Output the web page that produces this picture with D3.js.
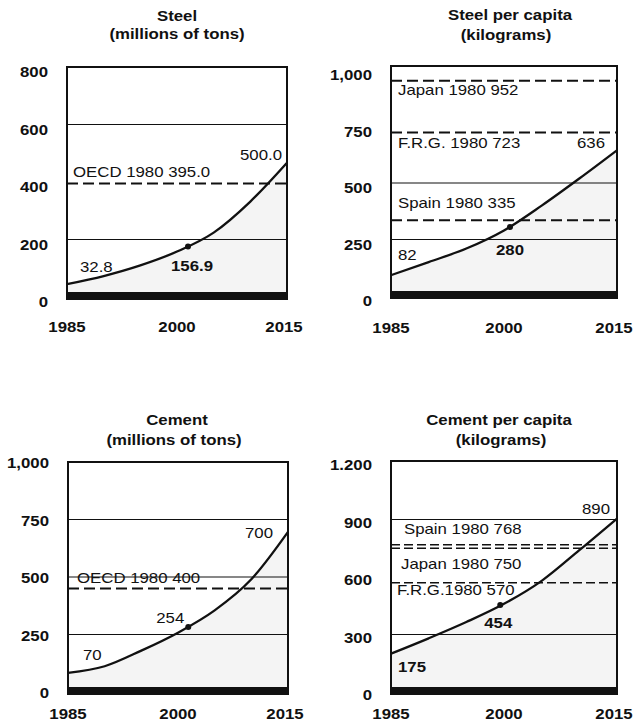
<!DOCTYPE html>
<html><head><meta charset="utf-8">
<script src="https://cdn.jsdelivr.net/npm/d3@7"></script>
<style>
body{margin:0;background:#fff}
svg{display:block}
text{font-family:"Liberation Sans",Arial,Helvetica,sans-serif;fill:#111}
</style>
</head><body>
<svg id="chart" width="635" height="724"></svg>
<script>
// ---------------- data ----------------
const years = [1985, 1990, 1995, 2000, 2005, 2010, 2015];
const xTickYears = [1985, 2000, 2015];

const steelTotal      = [45, 73, 110, 158, 224, 332, 467];
const steelPerCapita  = [92, 150, 210, 290, 400, 520, 645];
const cementTotal     = [83, 112, 180, 258, 355, 490, 696];
const cementPerCapita = [200, 280, 365, 460, 580, 740, 905];

const steelTicks = [0, 200, 400, 600, 800];
const steelTickLabels = ["0", "200", "400", "600", "800"];
const steelPcTicks = [0, 250, 500, 750, 1000];
const steelPcTickLabels = ["0", "250", "500", "750", "1,000"];
const cementTicks = [0, 250, 500, 750, 1000];
const cementTickLabels = ["0", "250", "500", "750", "1,000"];
const cementPcTicks = [0, 300, 600, 900, 1200];
const cementPcTickLabels = ["0", "300", "600", "900", "1.200"];

const steelGrid = [200, 600];
const steelPcGrid = [250, 500];
const cementGrid = [250, 500, 750];
const cementPcGrid = [300, 900];

const steelRefNames = ["OECD 1980 395.0"];
const steelRefValues = [395];
const steelPcRefNames = ["Japan 1980 952", "F.R.G. 1980 723", "Spain 1980 335"];
const steelPcRefValues = [952, 723, 335];
const cementRefNames = ["OECD 1980 400"];
const cementRefValues = [450]; // as drawn in the picture
const cementPcRefNames = ["Spain 1980 768", "Japan 1980 750", "F.R.G.1980 570"];
const cementPcRefValues = [768, 750, 570];

// marker points on the curves [year, value]
const steelMarker = [2001.5, 176];
const steelPcMarker = [2000.8, 305];
const cementMarker = [2001.4, 283];
const cementPcMarker = [1999.5, 454];

// value labels: start, marker, end
const steelValueLabels = ["32.8", "156.9", "500.0"];
const steelPcValueLabels = ["82", "280", "636"];
const cementValueLabels = ["70", "254", "700"];
const cementPcValueLabels = ["175", "454", "890"];

// ---------------- drawing ----------------
const svg = d3.select("#chart");
const SX = 1.2; // horizontal stretch of the printed type

function txt(g, x, y, s, o = {}) {
  return g.append("text")
    .attr("transform", `translate(${x},${y}) scale(${SX},1)`)
    .attr("text-anchor", o.anchor || "start")
    .attr("font-size", o.size || 14)
    .attr("font-weight", o.weight || "normal")
    .text(s);
}

const panels = [
  { title: ["Steel", "(millions of tons)"], titleX: 177, titleY: [21, 39],
    values: steelTotal, xr: [67, 287], yMax: 800, yr: [297, 67], frameTop: 67,
    ticks: steelTicks, tickLabels: steelTickLabels, tickOff: 10, grid: steelGrid,
    refNames: steelRefNames, refValues: steelRefValues, refDx: [6], refDy: [-6],
    dash: "11,5", dashW: 2, marker: steelMarker, vLabels: steelValueLabels,
    vPos: [[13, -12, "start", "normal"], [4, 25, "middle", "bold"], [-5, -3, "end", "normal"]],
    xLabelY: 332 },
  { title: ["Steel per capita", "(kilograms)"], titleX: [510, 506], titleY: [20, 40],
    values: steelPerCapita, xr: [391, 617], yMax: 1000, yr: [296, 70], frameTop: 66,
    ticks: steelPcTicks, tickLabels: steelPcTickLabels, tickOff: 10, grid: steelPcGrid,
    refNames: steelPcRefNames, refValues: steelPcRefValues, refDx: [7, 7, 7], refDy: [14, 15, -12],
    dash: "11,5", dashW: 2, marker: steelPcMarker, vLabels: steelPcValueLabels,
    vPos: [[7, -15, "start", "normal"], [0, 28, "middle", "bold"], [-12, -2, "end", "normal"]],
    xLabelY: 333 },
  { title: ["Cement", "(millions of tons)"], titleX: [177, 174], titleY: [425, 445],
    values: cementTotal, xr: [68, 288], yMax: 1000, yr: [692, 462], frameTop: 462,
    ticks: cementTicks, tickLabels: cementTickLabels, tickOff: 6, grid: cementGrid,
    refNames: cementRefNames, refValues: cementRefValues, refDx: [9], refDy: [-5.5], refBg: true,
    dash: "11,5", dashW: 2, marker: cementMarker, vLabels: cementValueLabels,
    vPos: [[15, -13, "start", "normal"], [-18, -4, "middle", "normal"], [-15, 6, "end", "normal"]],
    xLabelY: 719 },
  { title: ["Cement per capita", "(kilograms)"], titleX: [499, 501], titleY: [425, 445],
    values: cementPerCapita, xr: [391, 617], yMax: 1200, yr: [692, 462], frameTop: 461,
    ticks: cementPcTicks, tickLabels: cementPcTickLabels, tickOff: 8, grid: cementPcGrid,
    refNames: cementPcRefNames, refValues: cementPcRefValues, refDx: [13, 10, 6], refDy: [-11, 21, 12],
    dash: "9,4", dashW: 1.6, marker: cementPcMarker, vLabels: cementPcValueLabels,
    vPos: [[7, 18, "start", "bold"], [-2, 23, "middle", "bold"], [-7, -5, "end", "normal"]],
    xLabelY: 719 }
];

panels.forEach(p => {
  const g = svg.append("g");
  const x = d3.scaleLinear().domain([1985, 2015]).range(p.xr);
  const y = d3.scaleLinear().domain([0, p.yMax]).range(p.yr);
  const left = x(1985), right = x(2015), bottom = y(0) + 2, top = p.frameTop;
  const data = years.map((yr, i) => ({ year: yr, v: p.values[i] }));

  // titles
  const tx = Array.isArray(p.titleX) ? p.titleX : [p.titleX, p.titleX];
  txt(g, tx[0], p.titleY[0], p.title[0], { anchor: "middle", weight: "bold" });
  txt(g, tx[1], p.titleY[1], p.title[1], { anchor: "middle", weight: "bold" });

  // light stipple under the curve
  g.append("path").datum(data)
    .attr("d", d3.area().x(d => x(d.year)).y0(y(0) - 5).y1(d => y(d.v)).curve(d3.curveMonotoneX))
    .attr("fill", "#f4f4f4");

  // solid grid lines
  g.selectAll(".grid").data(p.grid).join("line")
    .attr("x1", left).attr("x2", right)
    .attr("y1", d => y(d)).attr("y2", d => y(d))
    .attr("stroke", "#111").attr("stroke-width", 1.2);

  // dashed reference lines
  g.selectAll(".ref").data(p.refValues).join("line")
    .attr("x1", left).attr("x2", right)
    .attr("y1", d => y(d)).attr("y2", d => y(d))
    .attr("stroke", "#111").attr("stroke-width", p.dashW)
    .attr("stroke-dasharray", p.dash);

  // reference labels
  p.refNames.forEach((name, i) => {
    const lx = left + p.refDx[i], ly = y(p.refValues[i]) + p.refDy[i];
    const t = txt(g, lx, ly, name);
    if (p.refBg) {
      const w = t.node().getBBox().width * SX;
      g.insert("rect", "text")
        .attr("x", lx - 1).attr("y", ly - 12).attr("width", w + 8).attr("height", 14)
        .attr("fill", "#fff");
      t.raise();
    }
  });

  // curve
  g.append("path").datum(data)
    .attr("d", d3.line().x(d => x(d.year)).y(d => y(d.v)).curve(d3.curveMonotoneX))
    .attr("fill", "none").attr("stroke", "#111").attr("stroke-width", 2.3);

  // marker dot
  g.append("circle")
    .attr("cx", x(p.marker[0])).attr("cy", y(p.marker[1])).attr("r", 3)
    .attr("fill", "#111");

  // bottom bar
  g.append("rect")
    .attr("x", left).attr("y", y(0) - 5).attr("width", right - left).attr("height", 7)
    .attr("fill", "#111");

  // frame
  g.append("rect")
    .attr("x", left).attr("y", top).attr("width", right - left).attr("height", bottom - top)
    .attr("fill", "none").attr("stroke", "#111").attr("stroke-width", 2);

  // value labels
  const anchors = [
    [x(years[0]), y(p.values[0])],
    [x(p.marker[0]), y(p.marker[1])],
    [x(years[years.length - 1]), y(p.values[p.values.length - 1])]
  ];
  p.vLabels.forEach((s, i) => {
    const [dx, dy, anc, w] = p.vPos[i];
    txt(g, anchors[i][0] + dx, anchors[i][1] + dy, s, { anchor: anc, weight: w });
  });

  // y tick labels
  p.ticks.forEach((t, i) => {
    txt(g, left - 19, y(t) + p.tickOff, p.tickLabels[i], { anchor: "end", weight: "bold" });
  });

  // x tick labels
  xTickYears.forEach(yr => {
    const xx = x(yr) + (yr === 2015 ? -3 : 0);
    txt(g, xx, p.xLabelY, String(yr), { anchor: "middle", weight: "bold" });
  });
});
</script>
</body></html>
